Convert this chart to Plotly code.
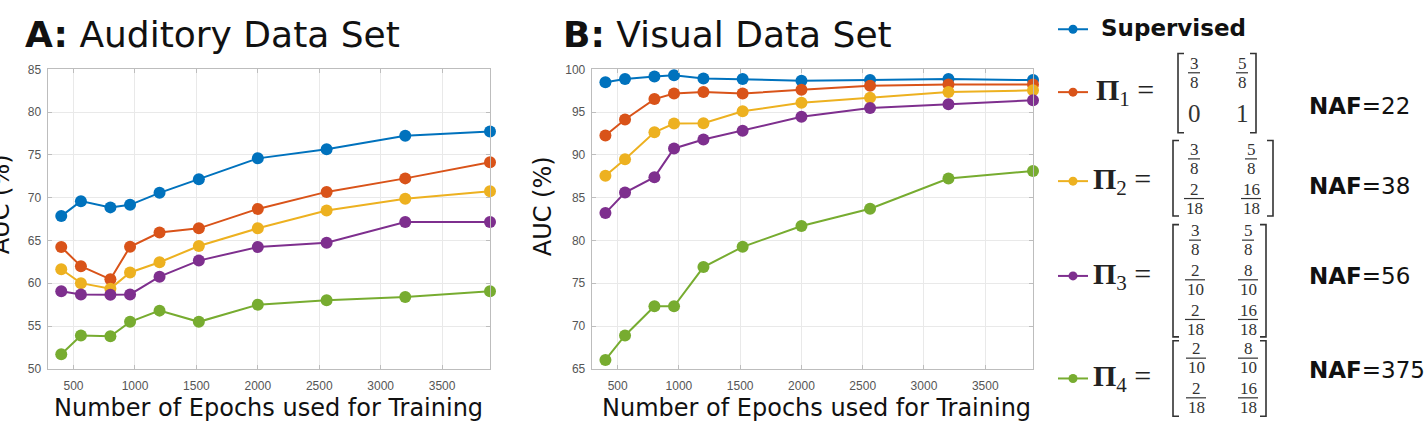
import plotly.graph_objects as go

W, H = 1425, 429

# ---------------- data ----------------
epochs = [400, 560, 800, 960, 1200, 1520, 2000, 2560, 3200, 3890]
series_names = ["Supervised", "Π1", "Π2", "Π3", "Π4"]
colors = ["#0072BD", "#D95319", "#EDB120", "#7E2F8E", "#77AC30"]

aud_supervised = [67.85, 69.6, 68.87, 69.17, 70.57, 72.15, 74.6, 75.66, 77.24, 77.74]
aud_pi1 = [64.23, 62.0, 60.46, 64.27, 65.93, 66.42, 68.69, 70.68, 72.26, 74.15]
aud_pi2 = [61.63, 60.01, 59.37, 61.26, 62.46, 64.35, 66.42, 68.5, 69.89, 70.76]
aud_pi3 = [59.07, 58.69, 58.65, 58.69, 60.77, 62.65, 64.23, 64.73, 67.17, 67.17]
aud_pi4 = [51.7, 53.9, 53.8, 55.49, 56.8, 55.49, 57.49, 58.0, 58.39, 59.07]

vis_supervised = [98.5, 98.87, 99.17, 99.32, 98.94, 98.87, 98.68, 98.75, 98.87, 98.75]
vis_pi1 = [92.27, 94.15, 96.53, 97.17, 97.36, 97.17, 97.62, 98.1, 98.23, 98.23]
vis_pi2 = [87.56, 89.5, 92.65, 93.67, 93.7, 95.1, 96.1, 96.68, 97.36, 97.55]
vis_pi3 = [83.2, 85.6, 87.4, 90.76, 91.8, 92.83, 94.46, 95.48, 95.93, 96.4]
vis_pi4 = [66.03, 68.9, 72.3, 72.3, 76.89, 79.26, 81.7, 83.71, 87.25, 88.12]

aud = [aud_supervised, aud_pi1, aud_pi2, aud_pi3, aud_pi4]
vis = [vis_supervised, vis_pi1, vis_pi2, vis_pi3, vis_pi4]

x_ticks = [500, 1000, 1500, 2000, 2500, 3000, 3500]
aud_y_ticks = [50, 55, 60, 65, 70, 75, 80, 85]
vis_y_ticks = [65, 70, 75, 80, 85, 90, 95, 100]

matrices = [
    [["3/8", "5/8"], ["0", "1"]],
    [["3/8", "5/8"], ["2/18", "16/18"]],
    [["3/8", "5/8"], ["2/10", "8/10"], ["2/18", "16/18"]],
    [["2/10", "8/10"], ["2/18", "16/18"]],
]
naf_values = [22, 38, 56, 375]

# ---------------- layout geometry (pixels) ----------------
panelA = dict(x0=47.5, x1=490)
panelB = dict(x0=591.7, x1=1033)
ytop, ybot = 64.5, 374

fig = go.Figure()

for i in range(5):
    fig.add_trace(go.Scatter(x=epochs, y=aud[i], mode="lines+markers", xaxis="x", yaxis="y",
                             line=dict(color=colors[i], width=2),
                             marker=dict(size=12, color=colors[i]),
                             cliponaxis=False, showlegend=False, name=series_names[i]))
for i in range(5):
    fig.add_trace(go.Scatter(x=epochs, y=vis[i], mode="lines+markers", xaxis="x2", yaxis="y2",
                             line=dict(color=colors[i], width=2),
                             marker=dict(size=12, color=colors[i]),
                             cliponaxis=False, showlegend=False, name=series_names[i]))

# legend glyphs on an overlay pixel axis
leg_rows = [23, 88, 180, 278, 384]
for i in range(5):
    fig.add_trace(go.Scatter(x=[1058, 1073, 1088], y=[leg_rows[i]] * 3, mode="lines",
                             xaxis="x3", yaxis="y3", line=dict(color=colors[i], width=2),
                             showlegend=False, hoverinfo="skip"))
    fig.add_trace(go.Scatter(x=[1073], y=[leg_rows[i]], mode="markers",
                             xaxis="x3", yaxis="y3", marker=dict(size=9, color=colors[i]),
                             showlegend=False, hoverinfo="skip"))

grid = "#e9e9e9"
line = "#bdbdbd"
tickfont = dict(family="Liberation Sans", size=12, color="#555555")

def xax(p):
    return dict(domain=[p["x0"] / W, p["x1"] / W], range=[288, 3890], tickvals=x_ticks,
                showgrid=True, gridcolor=grid, gridwidth=1, zeroline=False,
                showline=True, linecolor=line, linewidth=1, mirror="ticks",
                ticks="inside", ticklen=4, tickcolor=line, tickfont=tickfont, fixedrange=True,
                ticklabelstandoff=6)

def yax(rng, tv, anchor):
    return dict(domain=[1 - ybot / H, 1 - ytop / H], range=rng, tickvals=tv, anchor=anchor,
                showgrid=True, gridcolor=grid, gridwidth=1, zeroline=False,
                showline=True, linecolor=line, linewidth=1, mirror="ticks",
                ticks="inside", ticklen=4, tickcolor=line, tickfont=tickfont, fixedrange=True,
                ticklabelstandoff=3)

fig.update_layout(
    width=W, height=H, margin=dict(l=0, r=0, t=0, b=0),
    paper_bgcolor="white", plot_bgcolor="rgba(0,0,0,0)",
    xaxis=dict(**xax(panelA), anchor="y"),
    yaxis=yax([50, 85], aud_y_ticks, "x"),
    xaxis2=dict(**xax(panelB), anchor="y2"),
    yaxis2=yax([65, 100], vis_y_ticks, "x2"),
    xaxis3=dict(domain=[0, 1], range=[0, W], visible=False, fixedrange=True, anchor="y3"),
    yaxis3=dict(domain=[0, 1], range=[H, 0], visible=False, fixedrange=True, anchor="x3"),
)

ann = []
shapes = []

def text(x, y, s, size, family="DejaVu Sans", xanchor="center", yanchor="middle", color="#111111",
         angle=0, pad=1):
    ann.append(dict(x=x, y=y, xref="x3", yref="y3", text=s, showarrow=False,
                    xanchor=xanchor, yanchor=yanchor, textangle=angle, borderpad=pad,
                    font=dict(family=family, size=size, color=color)))

# titles
text(23, 28, "<b>A:</b> Auditory Data Set", 36, xanchor="left")
text(561, 28, "<b>B:</b> Visual Data Set", 36, xanchor="left")
# axis titles
text(268, 415, "Number of Epochs used for Training", 24)
text(816, 415, "Number of Epochs used for Training", 24)
text(1, 204, "AUC (%)", 24, angle=-90)
text(543, 206, "AUC (%)", 24, angle=-90)

# legend text
text(1099, 22, "<b>Supervised</b>", 23, xanchor="left")

pi_x = [1094, 1091, 1091, 1091]
pi_sub = ["1", "2", "3", "4"]
brackets = [
    dict(l=1178, r=1256, t=48, b=130, cols=[1194, 1242], rows=[68, 110]),
    dict(l=1173, r=1273, t=138, b=216, cols=[1194, 1251], rows=[157, 198]),
    dict(l=1173, r=1266, t=225, b=341, cols=[1195, 1248], rows=[241, 282, 323]),
    dict(l=1173, r=1266, t=345, b=423, cols=[1196, 1248], rows=[363, 404]),
]
naf_y = [102, 185, 278, 375]
serif = "Liberation Serif"
ink = "#333333"

for k in range(4):
    row_y = leg_rows[k + 1]
    text(pi_x[k], row_y, "<b>Π</b><sub>" + pi_sub[k] + "</sub> =", 30, family=serif, xanchor="left", color="#222222")
    b = brackets[k]
    shapes.append(dict(type="path", xref="x3", yref="y3",
                       path=f"M {b['l']+6},{b['t']} L {b['l']},{b['t']} L {b['l']},{b['b']} L {b['l']+6},{b['b']}",
                       line=dict(color=ink, width=1.6)))
    shapes.append(dict(type="path", xref="x3", yref="y3",
                       path=f"M {b['r']-6},{b['t']} L {b['r']},{b['t']} L {b['r']},{b['b']} L {b['r']-6},{b['b']}",
                       line=dict(color=ink, width=1.6)))
    for r, rowvals in enumerate(matrices[k]):
        for c, v in enumerate(rowvals):
            cx, cy = b["cols"][c], b["rows"][r]
            if "/" in v:
                num, den = v.split("/")
                half = 6 if max(len(num), len(den)) == 1 else 10
                text(cx, cy - 9.5, num, 17, family=serif, color=ink, pad=0)
                text(cx, cy + 10, den, 17, family=serif, color=ink, pad=0)
                shapes.append(dict(type="line", xref="x3", yref="y3", x0=cx - half, x1=cx + half,
                                   y0=cy, y1=cy, line=dict(color=ink, width=1.2)))
            else:
                text(cx, cy, v, 25, family=serif, color=ink)
    text(1307, naf_y[k], "<b>NAF</b>=" + str(naf_values[k]), 23, xanchor="left")

fig.update_layout(annotations=ann, shapes=shapes)
fig.write_html("out.html")
